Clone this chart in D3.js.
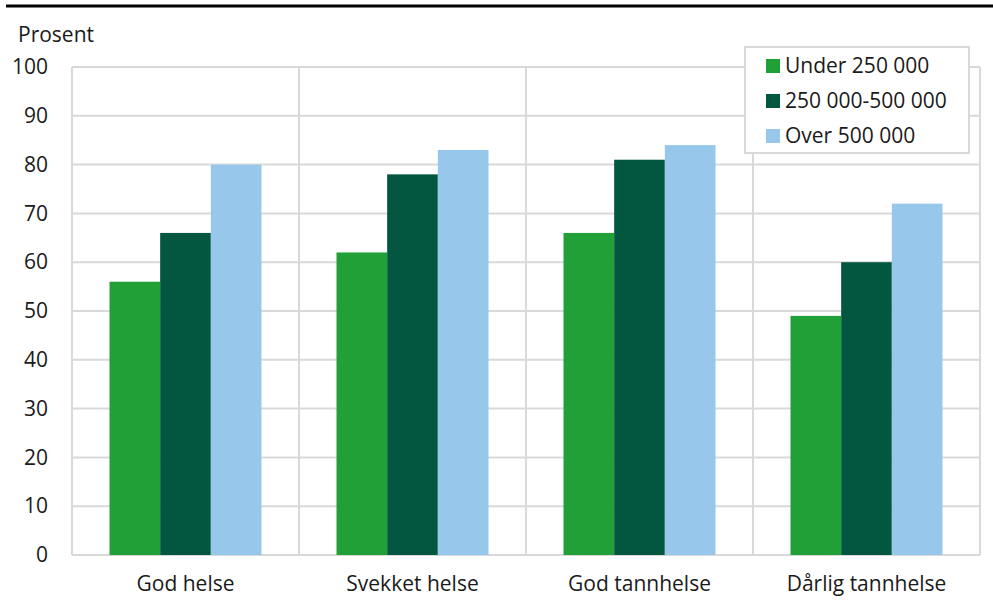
<!DOCTYPE html>
<html><head><meta charset="utf-8">
<script src="https://cdn.jsdelivr.net/npm/d3@7"></script>
<style>body{margin:0;background:#fff}svg{display:block;font-family:"Open Sans",sans-serif}</style>
</head><body>
<script>
const categories = ["God helse", "Svekket helse", "God tannhelse", "Dårlig tannhelse"];
const seriesNames = ["Under 250 000", "250 000-500 000", "Over 500 000"];
const under250 = [56, 62, 66, 49];
const mid250to500 = [66, 78, 81, 60];
const over500 = [80, 83, 84, 72];
const yTicks = [0,10,20,30,40,50,60,70,80,90,100];
const colors = ["#21a038", "#03563f", "#97c8ec"];
const seriesValues = [under250, mid250to500, over500];

const W = 993, H = 612;
const m = {left: 72, right: 13, top: 67, bottom: 57};
const FS = 21;
const svg = d3.select("body").append("svg").attr("width", W).attr("height", H);

svg.append("line").attr("x1", 6).attr("x2", W).attr("y1", 6).attr("y2", 6)
  .attr("stroke", "#000").attr("stroke-width", 3);

const x = d3.scaleBand().domain(categories).range([m.left, W - m.right]).padding(0);
const xs = d3.scaleBand().domain(seriesNames).range([37.5, x.bandwidth() - 37.5]).padding(0);
const y = d3.scaleLinear().domain([0, 100]).range([H - m.bottom, m.top]);

const grid = svg.append("g");
grid.selectAll("line.h").data(yTicks).join("line")
  .attr("x1", m.left).attr("x2", W - m.right)
  .attr("y1", d => y(d)).attr("y2", d => y(d))
  .attr("stroke", "#d9d9d9").attr("stroke-width", 2);
const vx = categories.map(c => x(c)).concat([W - m.right]);
grid.selectAll("line.v").data(vx).join("line")
  .attr("x1", d => d).attr("x2", d => d)
  .attr("y1", y(0)).attr("y2", y(100))
  .attr("stroke", "#d9d9d9").attr("stroke-width", 2);

const yAxis = d3.axisLeft(y).tickValues(yTicks).tickSize(0).tickPadding(24);
svg.append("g").attr("transform", `translate(${m.left},0)`).call(yAxis)
  .call(g => g.select(".domain").remove())
  .call(g => g.selectAll("text").attr("font-size", FS).attr("fill", "#1a1a1a").attr("font-family", "Open Sans"));

const xAxis = d3.axisBottom(x).tickSize(0).tickPadding(21);
svg.append("g").attr("transform", `translate(0,${y(0)})`).call(xAxis)
  .call(g => g.select(".domain").remove())
  .call(g => g.selectAll("text").attr("font-size", FS).attr("fill", "#1a1a1a").attr("font-family", "Open Sans"));

const groups = svg.append("g").selectAll("g").data(categories).join("g")
  .attr("transform", d => `translate(${x(d)},0)`);
groups.selectAll("rect").data((c, i) => seriesNames.map((s, j) => ({s, v: seriesValues[j][i], j})))
  .join("rect")
  .attr("x", d => xs(d.s)).attr("width", xs.bandwidth())
  .attr("y", d => y(d.v)).attr("height", d => y(0) - y(d.v))
  .attr("fill", d => colors[d.j]);

svg.append("text").attr("x", 18).attr("y", 42).text("Prosent")
  .attr("font-size", FS).attr("fill", "#1a1a1a");

const lg = svg.append("g");
lg.append("rect").attr("x", 745).attr("y", 47).attr("width", 224).attr("height", 106)
  .attr("fill", "#fff").attr("stroke", "#d9d9d9").attr("stroke-width", 2);
const items = lg.selectAll("g").data(seriesNames).join("g")
  .attr("transform", (d, i) => `translate(766,${66 + i * 35})`);
items.append("rect").attr("x", 0).attr("y", -7).attr("width", 14).attr("height", 14)
  .attr("fill", (d, i) => colors[i]);
items.append("text").attr("x", 19).attr("y", 0).attr("dy", "0.35em").text(d => d)
  .attr("font-size", FS).attr("fill", "#1a1a1a");
</script>
</body></html>
